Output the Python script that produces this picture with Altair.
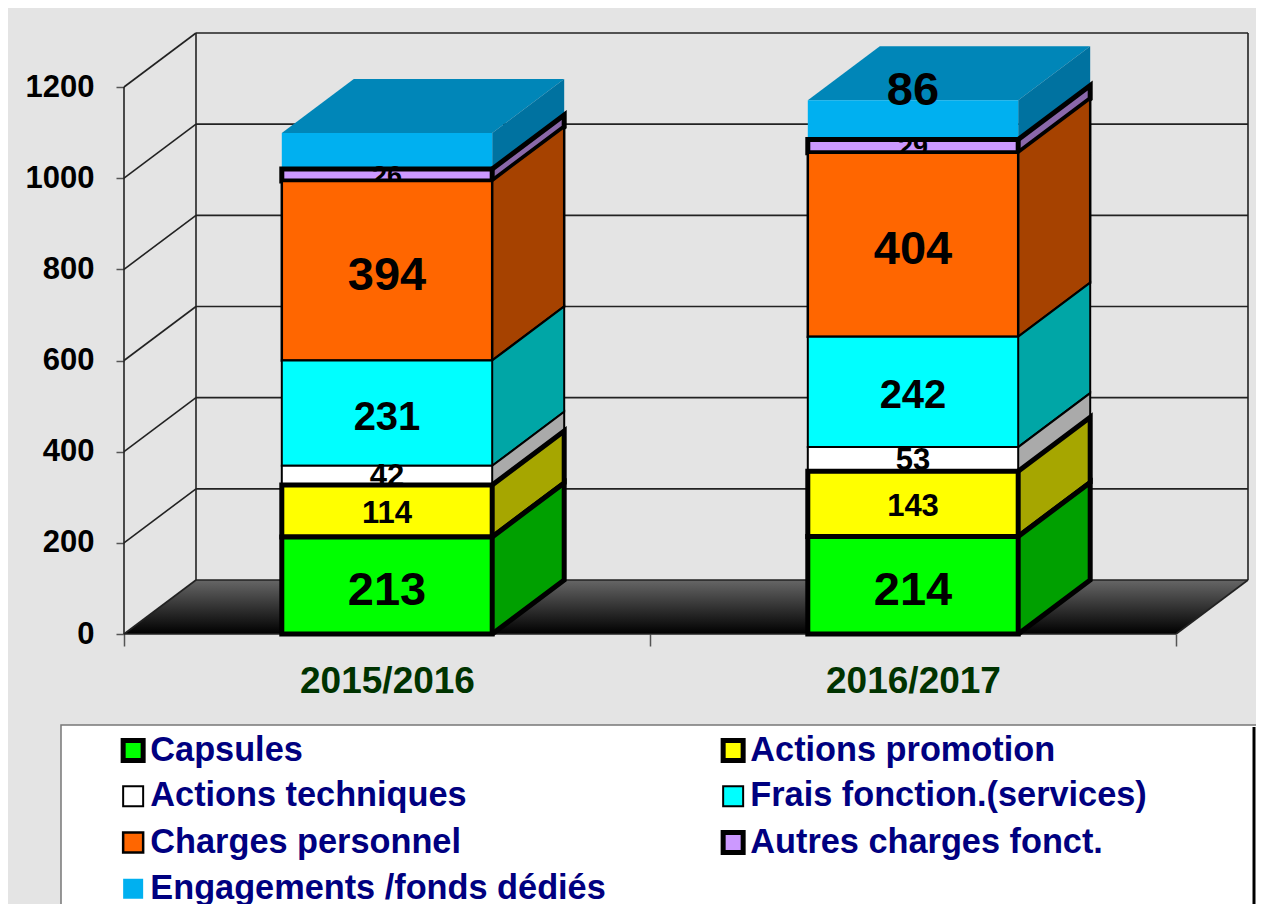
import altair as alt
import pandas as pd

years = ["2015/2016", "2016/2017"]
series = ["Capsules", "Actions promotion", "Actions techniques", "Frais fonction.(services)",
          "Charges personnel", "Autres charges fonct.", "Engagements /fonds dédiés"]
values_2015 = [213, 114, 42, 231, 394, 26, 79]
values_2016 = [214, 143, 53, 242, 404, 29, 86]
hidden_labels = [("2015/2016", "Engagements /fonds dédiés")]
y_ticks = [0, 200, 400, 600, 800, 1000, 1200]

front = ["#00FF00", "#FFFF00", "#FFFFFF", "#00FFFF", "#FF6600", "#CC99FF", "#00B0F0"]
side = ["#00A000", "#A6A600", "#AAAAAA", "#00A6A6", "#A64200", "#8A68AA", "#0072A0"]
top_colour = "#0086B8"
edge = [5, 5, 2, 2, 2.5, 5, 0]
label_size = [47, 31, 31, 40, 47, 27, 47]
label_shift = [6, 3, 2, 4.5, 5, 2, -29]

FONT = "Liberation Sans"
PX_Y = 547 / 1200      # pixels per unit of value
PX_X = 526             # pixels per category
DX = 72 / PX_X         # depth of the 3D box along x
DY = 54 / PX_Y         # depth of the 3D box along y
HALF = 0.2
XMAX = (1248 - 124) / PX_X
YMAX = 1200 + DY
W, H = 1248 - 124, 634 - 33

xs = alt.Scale(domain=[0, XMAX], nice=False, zero=False)
ys = alt.Scale(domain=[0, YMAX], nice=False, zero=False)
fill_scale = alt.Scale(domain=series, range=front)
width_scale = alt.Scale(type="ordinal", domain=series, range=edge)
stroke_scale = alt.Scale(domain=series, range=["black"] * len(series))

label_expr = f"datum.value==0.5?'{years[0]}':datum.value==1.5?'{years[1]}':''"
x_axis = alt.Axis(values=[0, 0.5, 1, 1.5, 2], title=None, domain=False, grid=False,
                  labelExpr=label_expr, labelFont=FONT, labelFontWeight="bold", labelFontSize=37,
                  labelColor="#003300", labelPadding=17, tickSize=12, tickColor="#555555",
                  tickWidth=1.5, tickOpacity=alt.ExprRef("datum.value % 1 ? 0 : 1"),
                  labelOverlap=False, labelFlush=False)
y_axis = alt.Axis(values=y_ticks, title=None, domain=False, grid=False, labelFont=FONT, format="d",
                  labelFontWeight="bold", labelFontSize=31, labelColor="black",
                  labelPadding=22, tickSize=8, tickColor="#555555", tickWidth=1.5)

X = alt.X("x:Q", scale=xs, axis=x_axis)
Y = alt.Y("y:Q", scale=ys, axis=y_axis, stack=None)

layers = []

# floor
floor = pd.DataFrame({"x": [0, DX, 2, 2 + DX], "y": [0, 0, 0, DY], "y2": [0, DY, DY, DY]})
layers.append(alt.Chart(floor).mark_area(
    orient="vertical",
    color=alt.Gradient(gradient="linear", x1=0, x2=0, y1=0, y2=1,
                       stops=[alt.GradientStop(color="#666666", offset=0),
                              alt.GradientStop(color="#000000", offset=1)])
).encode(x=X, y=Y, y2="y2:Q"))

# walls: grid lines, side-wall diagonals, frame
wall_rows = []
for i, v in enumerate(y_ticks):
    wall_rows += [{"k": f"back{i}", "o": 0, "x": DX, "y": v + DY},
                  {"k": f"back{i}", "o": 1, "x": XMAX, "y": v + DY},
                  {"k": f"diag{i}", "o": 0, "x": 0, "y": v},
                  {"k": f"diag{i}", "o": 1, "x": DX, "y": v + DY}]
wall_rows += [{"k": "axis", "o": 0, "x": 0, "y": 0}, {"k": "axis", "o": 1, "x": 0, "y": 1200},
              {"k": "bl", "o": 0, "x": DX, "y": DY}, {"k": "bl", "o": 1, "x": DX, "y": YMAX},
              {"k": "br", "o": 0, "x": XMAX, "y": DY}, {"k": "br", "o": 1, "x": XMAX, "y": YMAX},
              {"k": "front", "o": 0, "x": 0, "y": 0}, {"k": "front", "o": 1, "x": 2, "y": 0},
              {"k": "fr", "o": 0, "x": 2, "y": 0}, {"k": "fr", "o": 1, "x": XMAX, "y": DY}]
layers.append(alt.Chart(pd.DataFrame(wall_rows)).mark_line(color="#222222", strokeWidth=1.6).encode(
    x=X, y=Y, detail="k:N", order="o:Q"))

# legend panel
layers.append(alt.Chart(pd.DataFrame({"a": [1]})).mark_rect(fill="white", stroke="#777777", strokeWidth=1.5).encode(
    x=alt.value(61 - 124), x2=alt.value(1257 - 124), y=alt.value(725 - 33), y2=alt.value(910 - 33)))
layers.append(alt.Chart(pd.DataFrame({"a": [1]})).mark_rule(color="black", strokeWidth=3).encode(
    x=alt.value(1254 - 124), y=alt.value(727 - 33), y2=alt.value(910 - 33)))

legend = alt.Legend(title=None, orient="none", legendX=122 - 124 - 6, legendY=733 - 33, direction="horizontal",
                    columns=2, symbolType="square", symbolSize=400,
                    labelFont=FONT, labelFontWeight="bold", labelFontSize=34.3, labelColor="#000080",
                    labelLimit=700, labelOffset=0, rowPadding=8.2, columnPadding=107, padding=0)

starts = {y: 0 for y in years}
vals = {years[0]: values_2015, years[1]: values_2016}
segments = []
for s_i, s in enumerate(series):
    rows = []
    for c_i, y in enumerate(years):
        v0 = starts[y]
        v1 = v0 + vals[y][s_i]
        starts[y] = v1
        rows.append({"year": y, "series": s, "value": vals[y][s_i], "cx": c_i + 0.5,
                     "x": c_i + 0.5 - HALF, "x2": c_i + 0.5 + HALF, "y": v0, "y2": v1,
                     "mid": (v0 + v1) / 2})
    segments.append(rows)

for s_i in range(len(series) - 1, -1, -1):
    rows = segments[s_i]
    side_rows, outline = [], []
    for r in rows:
        a, b = r["x2"], r["x2"] + DX
        side_rows += [{"x": a, "y": r["y"], "y2": r["y2"], "year": r["year"]},
                      {"x": b, "y": r["y"] + DY, "y2": r["y2"] + DY, "year": r["year"]}]
        pts = [(a, r["y"]), (b, r["y"] + DY), (b, r["y2"] + DY), (a, r["y2"])]
        for o, (px, py) in enumerate(pts):
            outline.append({"x": px, "y": py, "o": o, "year": r["year"]})
    if s_i == len(series) - 1:
        top_rows = []
        for r in rows:
            l, rr, t = r["x"], r["x2"], r["y2"]
            top_rows += [{"x": l, "y": t, "y2": t, "year": r["year"]},
                         {"x": l + DX, "y": t, "y2": t + DY, "year": r["year"]},
                         {"x": rr, "y": t, "y2": t + DY, "year": r["year"]},
                         {"x": rr + DX, "y": t + DY, "y2": t + DY, "year": r["year"]}]
        layers.append(alt.Chart(pd.DataFrame(top_rows)).mark_area(orient="vertical", color=top_colour).encode(
            x=X, y=Y, y2="y2:Q", detail="year:N"))
    layers.append(alt.Chart(pd.DataFrame(side_rows)).mark_area(orient="vertical", color=side[s_i]).encode(
        x=X, y=Y, y2="y2:Q", detail="year:N"))
    if edge[s_i] > 0:
        layers.append(alt.Chart(pd.DataFrame(outline)).mark_line(
            color="black", strokeWidth=edge[s_i], strokeJoin="miter").encode(
            x=X, y=Y, detail="year:N", order="o:Q"))
    df = pd.DataFrame(rows)
    layers.append(alt.Chart(df).mark_rect(strokeJoin="miter").encode(
        x=X, x2="x2:Q", y=Y, y2="y2:Q",
        fill=alt.Fill("series:N", scale=fill_scale, legend=legend),
        stroke=alt.Stroke("series:N", scale=stroke_scale, legend=legend),
        strokeWidth=alt.StrokeWidth("series:N", scale=width_scale, legend=legend)))
    shown = df[[(r.year, r.series) not in hidden_labels for r in df.itertuples()]]
    layers.append(alt.Chart(shown).mark_text(
        font=FONT, fontWeight="bold", fontSize=label_size[s_i], color="black",
        baseline="middle", align="center", dy=label_shift[s_i]).encode(
        x=alt.X("cx:Q", scale=xs, axis=x_axis),
        y=alt.Y("mid:Q", scale=ys, axis=y_axis, stack=None), text="value:N"))

chart = alt.layer(*layers).properties(
    width=W, height=H, background="#E4E4E4",
    padding={"left": 116, "top": 25, "right": 8, "bottom": 270},
    autosize=alt.AutoSizeParams(type="none"),
).configure_view(stroke=None)

chart.save("out.html", embed_options={"renderer": "svg", "actions": False})
